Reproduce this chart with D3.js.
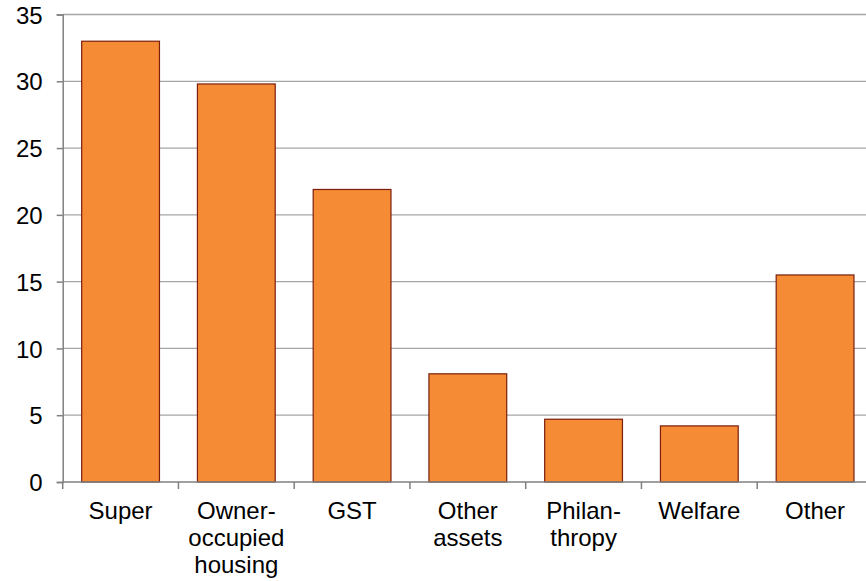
<!DOCTYPE html>
<html><head><meta charset="utf-8">
<script src="https://cdn.jsdelivr.net/npm/d3@7"></script>
<style>body{margin:0;background:#fff}svg{display:block}text{font-family:"Liberation Sans",Arial,sans-serif;fill:#000}</style>
</head><body>
<script>
const categories = [["Super"],["Owner-","occupied","housing"],["GST"],["Other","assets"],["Philan-","thropy"],["Welfare"],["Other"]];
const values = [33.0, 29.8, 21.9, 8.1, 4.7, 4.2, 15.5];
const yTicks = [0,5,10,15,20,25,30,35];

const W = 866, H = 581;
const svg = d3.select("body").append("svg").attr("width", W).attr("height", H);
const x0 = 62.7, step = 115.75;
const ids = d3.range(categories.length);
const x = d3.scaleBand().domain(ids).range([x0, x0 + step*categories.length]).paddingInner(0.328).paddingOuter(0.164);
const y = d3.scaleLinear().domain([0,35]).range([482, 14.5]);

// gridlines
svg.append("g").selectAll("line").data(yTicks.filter(d=>d>0)).join("line")
  .attr("x1", x0).attr("x2", W).attr("y1", d=>y(d)).attr("y2", d=>y(d))
  .attr("stroke", "#a6a6a6").attr("stroke-width", 1.3);

// bars
svg.append("g").selectAll("rect").data(values).join("rect")
  .attr("x", (d,i)=>x(i)).attr("width", x.bandwidth())
  .attr("y", d=>y(d)).attr("height", d=>y(0)-y(d))
  .attr("fill", "#f58b34").attr("stroke", "#7b1f0c").attr("stroke-width", 1.2);

// y axis
const ya = svg.append("g").attr("transform", `translate(${x0},0)`)
  .call(d3.axisLeft(y).tickValues(yTicks).tickSize(6).tickPadding(14));
ya.attr("font-size", null);
ya.select(".domain").attr("stroke", "#808080").attr("stroke-width", 1.5);
ya.selectAll(".tick line").attr("stroke", "#808080").attr("stroke-width", 1.5);
ya.selectAll(".tick text").style("font-size", "24px").attr("dy", "0.36em").attr("fill", "#000");

// x axis line
svg.append("line").attr("x1", x0).attr("x2", W).attr("y1", y(0)).attr("y2", y(0))
  .attr("stroke", "#808080").attr("stroke-width", 1.5);
// category boundary ticks
svg.append("g").selectAll("line").data(d3.range(categories.length+1)).join("line")
  .attr("x1", d=>x0 + d*step).attr("x2", d=>x0 + d*step)
  .attr("y1", y(0)).attr("y2", y(0)+7)
  .attr("stroke", "#808080").attr("stroke-width", 1.5);

// category labels
const lab = svg.append("g").selectAll("text").data(categories).join("text")
  .attr("text-anchor", "middle").style("font-size", "24px")
  .attr("transform", (d,i)=>`translate(${x(i)+x.bandwidth()/2},518.5)`);
lab.selectAll("tspan").data(d=>d).join("tspan")
  .attr("x", 0).attr("dy", (d,j)=> j===0 ? 0 : 27).text(d=>d);
</script>
</body></html>
